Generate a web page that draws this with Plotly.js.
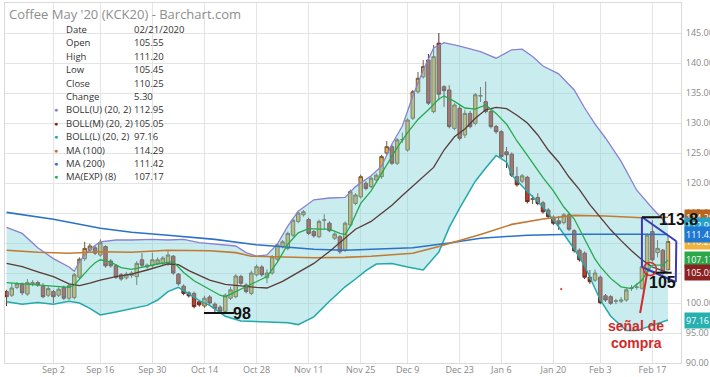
<!DOCTYPE html>
<html>
<head>
<meta charset="utf-8">
<script src="https://cdn.plot.ly/plotly-3.0.1.min.js"></script>
<style>html,body{margin:0;padding:0;background:#fff}#chart{width:710px;height:377px}</style>
</head>
<body>
<div id="chart"></div>
<script>
// ---- trading days (categories) ----
const dates = [
'2019-08-20','2019-08-21','2019-08-22','2019-08-23','2019-08-26','2019-08-27','2019-08-28','2019-08-29','2019-08-30',
'2019-09-03','2019-09-04','2019-09-05','2019-09-06','2019-09-09','2019-09-10','2019-09-11','2019-09-12','2019-09-13',
'2019-09-16','2019-09-17','2019-09-18','2019-09-19','2019-09-20','2019-09-23','2019-09-24','2019-09-25','2019-09-26','2019-09-27',
'2019-09-30','2019-10-01','2019-10-02','2019-10-03','2019-10-04','2019-10-07','2019-10-08','2019-10-09','2019-10-10','2019-10-11',
'2019-10-14','2019-10-15','2019-10-16','2019-10-17','2019-10-18','2019-10-21','2019-10-22','2019-10-23','2019-10-24','2019-10-25',
'2019-10-28','2019-10-29','2019-10-30','2019-10-31','2019-11-01','2019-11-04','2019-11-05','2019-11-06','2019-11-07','2019-11-08',
'2019-11-11','2019-11-12','2019-11-13','2019-11-14','2019-11-15','2019-11-18','2019-11-19','2019-11-20','2019-11-21','2019-11-22',
'2019-11-25','2019-11-26','2019-11-27','2019-11-29','2019-12-02','2019-12-03','2019-12-04','2019-12-05','2019-12-06',
'2019-12-09','2019-12-10','2019-12-11','2019-12-12','2019-12-13','2019-12-16','2019-12-17','2019-12-18','2019-12-19','2019-12-20',
'2019-12-23','2019-12-24','2019-12-26','2019-12-27','2019-12-30','2019-12-31','2020-01-02','2020-01-03',
'2020-01-06','2020-01-07','2020-01-08','2020-01-09','2020-01-10','2020-01-13','2020-01-14','2020-01-15','2020-01-16','2020-01-17',
'2020-01-21','2020-01-22','2020-01-23','2020-01-24','2020-01-27','2020-01-28','2020-01-29','2020-01-30','2020-01-31',
'2020-02-03','2020-02-04','2020-02-05','2020-02-06','2020-02-07','2020-02-10','2020-02-11','2020-02-12','2020-02-13','2020-02-14',
'2020-02-18','2020-02-19','2020-02-20','2020-02-21'];

// ---- OHLC ----
const open = [101.9,101.3,102.6,103.2,101.5,103.1,103.4,102.8,101.3,
101.9,101.3,102.6,100.8,100.9,104.3,107.4,108.8,109.2,
108.0,109.4,107.0,106.2,104.7,104.2,104.6,104.4,107.2,106.0,
106.2,106.6,106.6,106.5,107.8,104.8,102.8,101.7,101.6,100.2,
99.5,101.0,99.8,99.3,98.6,100.8,101.05,104.4,103.0,101.6,
104.7,106.0,104.2,105.0,107.3,109.4,109.1,111.3,113.6,114.7,
113.9,111.9,111.05,113.8,113.3,110.8,111.05,108.8,113.0,116.6,
117.7,119.95,119.4,120.5,121.05,125.0,126.05,123.3,127.2,
125.5,130.8,135.2,137.7,140.5,131.9,143.3,136.05,135.5,129.1,
132.45,128.0,131.6,129.95,134.5,133.55,131.9,129.4,
128.55,125.2,124.8,121.05,120.3,120.95,117.3,117.6,116.7,115.5,
114.3,113.7,113.4,114.7,112.05,108.8,108.3,104.3,103.8,
104.3,101.2,101.05,100.3,100.3,100.5,102.45,102.6,102.45,105.2,
111.9,108.4,108.8,105.55];
const high = [102.2,103.3,103.5,103.4,104.0,103.8,103.7,103.3,102.8,
102.2,102.6,102.9,103.2,105.0,107.6,110.2,109.9,109.5,
110.6,109.6,107.3,106.5,105.0,105.2,105.3,107.0,108.3,106.6,
108.4,107.6,107.8,108.7,108.0,105.0,103.1,102.0,101.9,100.5,
101.2,101.3,100.1,99.6,101.6,102.7,104.8,104.7,103.3,105.4,
106.4,106.3,105.6,108.0,110.0,110.5,111.9,114.1,115.3,115.5,
114.2,112.2,113.9,114.8,113.6,111.8,111.3,113.6,118.9,118.3,
121.4,120.3,121.1,121.6,124.7,127.0,126.4,127.5,128.4,
130.8,135.5,138.5,140.5,141.5,143.0,145.0,136.3,136.3,133.3,
133.0,132.2,132.0,135.0,136.0,136.9,132.2,129.7,
128.8,126.0,125.1,122.7,121.5,121.2,118.0,118.3,117.0,115.8,
114.6,114.5,115.0,115.0,112.3,109.1,108.6,105.5,105.6,
104.6,101.5,101.3,100.7,101.0,102.5,103.0,103.3,106.8,111.6,
113.8,110.5,109.0,111.2];
const low = [99.5,101.0,102.3,101.3,101.2,102.8,102.7,100.8,101.0,
100.0,101.0,100.5,100.5,100.6,104.0,107.0,108.5,108.0,
107.7,105.9,105.9,104.0,103.7,103.9,104.2,103.0,106.0,105.7,
105.9,106.3,106.3,106.2,104.7,102.9,101.3,100.9,99.1,99.4,
99.2,99.7,98.5,98.2,98.4,100.5,100.8,103.0,101.6,101.3,
104.4,104.4,103.3,104.7,107.0,109.1,108.8,111.0,113.3,114.4,
111.3,110.9,110.8,112.2,111.8,110.5,108.2,108.5,112.7,116.3,
117.4,118.8,119.1,120.2,120.7,124.7,123.0,123.0,126.7,
125.2,130.5,134.9,137.4,133.0,131.6,133.8,132.7,129.1,128.8,
127.1,127.5,129.1,129.6,133.5,131.6,129.1,128.2,
124.1,122.5,121.0,119.4,120.0,116.6,116.5,116.3,114.9,114.1,
113.0,112.2,113.1,112.0,108.4,106.9,104.0,103.2,103.5,
99.8,100.2,99.7,99.8,100.0,100.2,102.0,102.2,102.2,104.9,
106.9,107.6,104.7,105.45];
const close = [101.05,102.5,103.2,101.7,103.4,103.4,103.0,101.05,102.4,
101.05,102.3,100.8,102.9,104.7,107.3,109.1,109.5,108.3,
110.05,106.2,106.2,104.3,104.0,104.8,105.0,106.6,106.3,106.3,
107.2,107.2,107.5,108.0,105.0,103.2,101.6,101.2,99.4,99.7,
100.8,100.0,99.1,98.6,101.3,102.2,104.5,103.3,101.9,105.0,
106.05,104.7,105.0,107.7,109.7,110.2,111.6,113.8,115.0,115.2,
111.6,111.2,113.6,113.85,112.05,111.5,108.55,113.3,118.55,118.0,
121.05,119.1,120.8,121.3,124.4,126.05,123.3,127.2,127.25,
130.5,135.2,137.45,139.4,133.3,141.05,134.8,135.4,129.4,133.0,
127.45,131.6,129.4,134.7,134.55,131.9,129.4,128.55,
124.4,124.7,121.3,119.7,121.2,116.9,117.35,116.6,115.2,114.4,
113.3,113.2,114.7,112.3,108.7,107.2,104.3,103.55,105.0,
100.05,100.5,99.95,100.35,100.5,102.2,102.5,102.65,106.05,111.3,
107.2,109.1,104.95,110.25];

// ---- indicator lines, read at sample days (index into dates) ----
const bollUIdx = [0,3,6,9,12,13,14,16,18,21,24,28,31,34,37,41,44,46,48,50,52,54,56,59,62,65,67,70,72,74,76,78,80,82,84,87,91,94,97,99,101,103,106,109,111,113,115,118,121,124,127];
const bollUVal = [112.6,111.6,109.2,107.4,106.0,105.3,106.9,109.0,110.2,110.5,110.5,110.6,110.5,110.6,110.05,109.7,109.5,108.4,107.8,108.0,109.8,112.8,115.3,117.2,117.5,117.6,119.4,121.2,122.8,126.5,129.5,134.5,138.8,142.5,143.4,142.8,141.9,140.8,142.2,142.3,141.1,139.5,138.2,135.5,132.5,129.8,127.5,123.6,118.8,115.8,113.0];
const bollMIdx = [0,3,6,9,12,14,16,18,21,24,27,31,33,35,37,39,42,45,48,50,53,56,59,62,65,67,70,72,74,76,78,80,82,84,86,88,90,92,94,96,98,100,102,104,106,108,110,112,114,116,118,120,122,124,127];
const bollMVal = [106.6,106.05,105.2,104.4,103.2,102.9,103.3,103.8,104.4,104.8,105.5,106.5,106.4,105.4,104.6,103.8,103.1,102.8,102.6,102.5,103.6,105.1,106.6,108.6,110.8,112.3,113.6,114.9,116.3,117.9,119.5,121.0,122.6,125.5,127.7,129.0,130.8,132.2,132.6,132.4,131.3,130.0,128.0,125.5,123.5,121.0,118.9,116.4,114.2,112.2,110.4,108.7,107.2,106.0,105.05];
const bollLIdx = [0,3,6,9,12,14,16,18,21,24,27,29,31,33,35,37,39,42,45,48,51,54,56,59,62,65,67,69,71,74,77,80,83,85,87,90,92,94,96,97,100,103,106,109,111,113,114,116,119,121,124,127];
const bollLVal = [100.2,99.8,100.1,99.8,100.3,100.0,99.1,98.0,98.5,99.0,99.6,100.5,101.9,102.6,101.5,100.4,99.6,97.8,97.0,96.9,96.9,96.7,96.4,97.7,100.3,102.7,104.0,105.4,106.5,106.6,106.0,105.5,108.5,112.6,115.8,120.3,122.5,124.6,123.5,121.3,118.6,116.0,112.7,109.0,106.2,102.5,100.5,97.8,95.4,95.4,96.3,97.16];
const ma100Idx = [0,6,12,18,24,31,39,44,47,53,59,65,70,78,83,91,97,103,109,115,122,127];
const ma100Val = [108.8,108.45,108.3,108.55,108.45,108.8,108.7,108.4,107.8,107.65,107.55,107.6,107.8,108.3,109.4,111.4,113.1,114.0,114.6,114.5,114.2,114.29];
const ma200Idx = [0,9,18,24,31,40,48,53,59,65,78,85,91,100,109,122,127];
const ma200Val = [115.1,113.95,112.45,111.8,111.3,110.6,109.7,109.4,108.95,108.8,109.2,110.0,110.8,111.3,111.45,111.45,111.42];
const emaIdx = [0,3,6,9,12,13,14,16,17,18,20,22,24,26,29,32,34,36,39,41,42,44,46,48,50,52,54,56,58,60,62,64,65,66,68,70,73,75,77,79,81,83,84,86,88,90,92,94,96,98,100,103,105,107,109,111,113,114,116,118,120,122,123,124,126,127];
const emaVal = [103.4,103.2,103.1,102.8,102.6,103.0,104.0,105.9,106.7,107.2,106.8,105.9,105.6,106.0,106.5,106.9,105.1,103.7,102.2,101.3,101.05,101.9,102.8,103.6,104.4,106.8,109.8,111.7,112.4,112.3,112.3,111.6,111.4,112.8,116.6,118.7,123.0,125.9,128.4,130.6,132.2,134.0,134.5,133.6,132.5,132.3,133.0,131.6,129.8,127.0,124.6,120.9,118.7,116.0,114.0,110.7,107.3,106.05,104.1,102.7,102.4,103.8,105.2,106.3,106.3,107.17];

// ---- axis ticks ----
const xTickDates = ['2019-09-03','2019-09-16','2019-09-30','2019-10-14','2019-10-28','2019-11-11','2019-11-25','2019-12-09','2019-12-23','2020-01-06','2020-01-21','2020-02-03','2020-02-18'];
const xTickLabels = ['Sep 2','Sep 16','Sep 30','Oct 14','Oct 28','Nov 11','Nov 25','Dec 9','Dec 23','Jan 6','Jan 20','Feb 3','Feb 17'];
const yTicks = [90,95,100,105,110,115,120,125,130,135,140,145];

// ---- info panel ----
const infoLabels = ['Date','Open','High','Low','Close','Change','BOLL(U) (20, 2)','BOLL(M) (20, 2)','BOLL(L) (20, 2)','MA (100)','MA (200)','MA(EXP) (8)'];
const infoValues = ['02/21/2020','105.55','111.20','105.45','110.25','5.30','112.95','105.05','97.16','114.29','111.42','107.17'];
const infoDots = [null,null,null,null,null,null,'#8a80d2','#8b1e1e','#23a8a8','#c7722a','#2a72c8','#27ad4d'];

// ---- last-value badges ----
const badgeValues = [114.29,112.95,110.25,111.42,107.17,105.05,97.16];
const badgeColors = ['#b8661f','#27a2c6','#f0b43c','#1f78d1','#2ca84a','#8b2121','#27b0b0'];

const pick = (idx) => idx.map(i => dates[i]);

const traces = [
  {type:'scatter', mode:'lines', x:pick(bollLIdx), y:bollLVal, line:{color:'#22a9a9', width:1.5}, hoverinfo:'skip'},
  {type:'scatter', mode:'lines', x:pick(bollUIdx), y:bollUVal, line:{color:'#8a82d0', width:1.3}, fill:'tonexty', fillcolor:'rgba(120,208,214,0.40)', hoverinfo:'skip'},
  {type:'scatter', mode:'lines', x:pick(ma200Idx), y:ma200Val, line:{color:'#2a72c8', width:1.6}, hoverinfo:'skip'},
  {type:'scatter', mode:'lines', x:pick(ma100Idx), y:ma100Val, line:{color:'#c27a33', width:1.6}, hoverinfo:'skip'},
  {type:'scatter', mode:'lines', x:pick(bollMIdx), y:bollMVal, line:{color:'#5a3b36', width:1.3}, hoverinfo:'skip'},
  {type:'scatter', mode:'lines', x:pick(emaIdx), y:emaVal, line:{color:'#24aa4c', width:1.3}, hoverinfo:'skip'},
  {type:'candlestick', x:dates, open:open, high:high, low:low, close:close,
   increasing:{fillcolor:'#e8ad4a', line:{color:'#6e5a3c', width:1}},
   decreasing:{fillcolor:'#c13d2b', line:{color:'#6a2a22', width:1}},
   whiskerwidth:0, hoverinfo:'skip'}
];

const L = 5, R = 681, T = 3, B = 363;
const px2paperX = x => (x - L) / (R - L);
const px2paperY = y => (B - y) / (B - T);

const annotations = [];
const infoFont = {size:9.5, color:'#333', family:'Open Sans, sans-serif'};
infoLabels.forEach((lab, k) => {
  const y = 29.5 + k * 13.4;
  annotations.push({xref:'paper', yref:'paper', x:px2paperX(64), y:px2paperY(y), xanchor:'left', yanchor:'middle', text:lab, showarrow:false, font:infoFont});
  annotations.push({xref:'paper', yref:'paper', x:px2paperX(132), y:px2paperY(y), xanchor:'left', yanchor:'middle', text:infoValues[k], showarrow:false, font:infoFont});
  if (infoDots[k]) annotations.push({xref:'paper', yref:'paper', x:px2paperX(56), y:px2paperY(y), xanchor:'center', yanchor:'middle', text:'●', showarrow:false, font:{size:7, color:infoDots[k]}});
});
badgeValues.forEach((v, k) => {
  annotations.push({xref:'paper', yref:'y', x:1, y:v, xanchor:'left', yanchor:'middle', xshift:3, text:v.toFixed(2), showarrow:false, bgcolor:badgeColors[k], borderpad:1, font:{size:9, color:'#fff', family:'Open Sans, sans-serif'}});
});
const handFont = {family:'Liberation Sans Narrow, Liberation Sans, Arial, sans-serif', size:16, color:'#111'};
annotations.push({x:45.3, y:98.3, xref:'x', yref:'y', text:'<b>98</b>', showarrow:false, xanchor:'center', yanchor:'middle', font:handFont});
annotations.push({x:124.9, y:114.0, xref:'x', yref:'y', text:'<b>113.8</b>', showarrow:false, xanchor:'left', yanchor:'middle', font:handFont});
annotations.push({x:125.9, y:103.4, xref:'x', yref:'y', text:'<b>105</b>', showarrow:false, xanchor:'center', yanchor:'middle', font:handFont});
const redFont = {family:'Liberation Sans, Arial, sans-serif', size:14, color:'#d22a2a'};
annotations.push({x:120.9, y:96.2, xref:'x', yref:'y', text:'<b>señal de</b>', showarrow:false, xanchor:'center', yanchor:'middle', font:redFont});
annotations.push({x:120.9, y:93.35, xref:'x', yref:'y', text:'<b>compra</b>', showarrow:false, xanchor:'center', yanchor:'middle', font:redFont});

const blue = {color:'#3b3cbb', width:2};
const shapes = [
  {type:'rect', xref:'paper', yref:'paper', x0:px2paperX(50), x1:px2paperX(179), y0:px2paperY(182), y1:px2paperY(21), fillcolor:'rgba(255,255,255,0.92)', line:{width:0}, layer:'between'},
  {type:'line', xref:'x', yref:'y', x0:37.9, x1:43.7, y0:98.33, y1:98.33, line:{color:'#111', width:2}},
  {type:'line', xref:'x', yref:'y', x0:122.0, x1:128.6, y0:114.33, y1:110.3, line:blue},
  {type:'line', xref:'x', yref:'y', x0:128.6, x1:128.5, y0:110.3, y1:103.5, line:blue},
  {type:'line', xref:'x', yref:'y', x0:128.5, x1:122.0, y0:103.5, y1:106.0, line:blue},
  {type:'line', xref:'x', yref:'y', x0:122.0, x1:122.0, y0:106.0, y1:114.33, line:blue},
  {type:'line', xref:'x', yref:'y', x0:122.0, x1:125.8, y0:114.3, y1:114.3, line:{color:'#111', width:2}},
  {type:'line', xref:'x', yref:'y', x0:124.2, x1:127.7, y0:105.05, y1:105.05, line:{color:'#111', width:2}},
  {type:'circle', xref:'x', yref:'y', x0:122.3, x1:124.8, y0:104.58, y1:106.75, line:{color:'#d22a2a', width:1.5}},
  {type:'line', xref:'x', yref:'y', x0:123.0, x1:121.65, y0:105.0, y1:98.33, line:{color:'#d22a2a', width:2}},
  {type:'circle', xref:'x', yref:'y', x0:106.4, x1:106.6, y0:102.2, y1:102.45, line:{color:'#d22a2a', width:1}, fillcolor:'#d22a2a'}
];

const layout = {
  width:710, height:377,
  margin:{l:L, r:710-R, t:T, b:377-B, pad:0},
  paper_bgcolor:'#fff', plot_bgcolor:'#fff',
  showlegend:false,
  boxgap:0.05,
  font:{family:'Open Sans, sans-serif', color:'#888'},
  title:{text:"Coffee May '20 (KCK20) - Barchart.com", x:9/710, xref:'container', xanchor:'left', y:1-14.5/377, yref:'container', yanchor:'middle', font:{size:13, color:'#8e8e8e', family:'Open Sans, sans-serif'}},
  xaxis:{type:'category', categoryorder:'array', categoryarray:dates, range:[-0.3, 129.5],
    tickmode:'array', tickvals:xTickDates, ticktext:xTickLabels, tickfont:{size:9, color:'#888'},
    showgrid:true, gridcolor:'#e4e4e4', gridwidth:1, showline:true, mirror:true, linecolor:'#dadada', linewidth:1,
    ticks:'', ticklabelstandoff:-2, rangeslider:{visible:false}, fixedrange:true, zeroline:false},
  yaxis:{side:'right', range:[90,150], tickmode:'array', tickvals:yTicks, ticktext:yTicks.map(v=>v.toFixed(2)),
    tickfont:{size:9, color:'#888'}, showgrid:true, gridcolor:'#e4e4e4', gridwidth:1,
    showline:true, mirror:true, linecolor:'#dadada', linewidth:1, ticks:'', ticklabelstandoff:2, zeroline:false, fixedrange:true},
  annotations:annotations,
  shapes:shapes
};

Plotly.newPlot('chart', traces, layout, {displayModeBar:false, staticPlot:true});
</script>
</body>
</html>
